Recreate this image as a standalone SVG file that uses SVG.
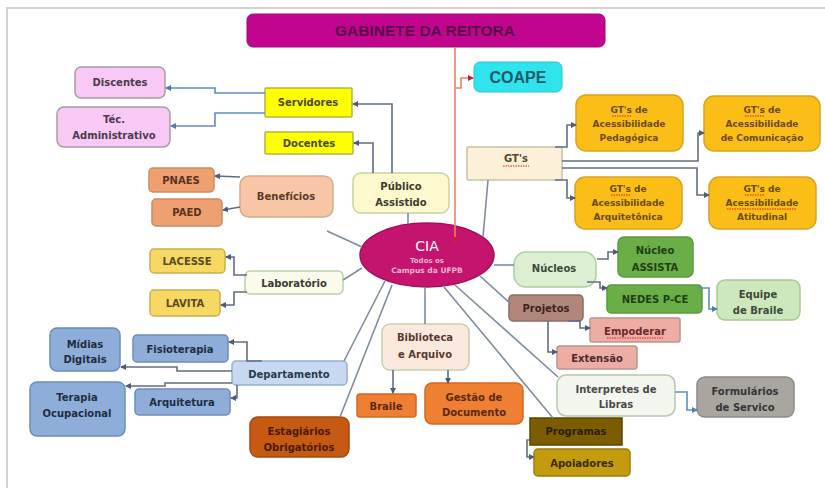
<svg xmlns="http://www.w3.org/2000/svg" width="825" height="488" viewBox="0 0 825 488">
<style>
text{font-family:"DejaVu Sans","Verdana",sans-serif;font-weight:bold;font-size:10px;text-anchor:middle}
.c{fill:none;stroke:#5f6d84;stroke-width:1.6}
.f{fill:none;stroke:#7f8ca0;stroke-width:1.6}
.b{fill:none;stroke:#5d8dc2;stroke-width:1.6}
.o{fill:none;stroke:#e8826a;stroke-width:1.6}
.sq{fill:none;stroke:#e02020;stroke-width:1;stroke-dasharray:1.5 1}
</style>
<defs>
<marker id="as" viewBox="0 0 6 6" refX="5" refY="3" markerWidth="6" markerHeight="6" markerUnits="userSpaceOnUse" orient="auto"><path d="M0,0 L6,3 L0,6 z" fill="#4f5d74"/></marker>
<marker id="ab" viewBox="0 0 6 6" refX="5" refY="3" markerWidth="6" markerHeight="6" markerUnits="userSpaceOnUse" orient="auto"><path d="M0,0 L6,3 L0,6 z" fill="#4d7db2"/></marker>
<marker id="ar" viewBox="0 0 6 6" refX="5" refY="3" markerWidth="6" markerHeight="6" markerUnits="userSpaceOnUse" orient="auto"><path d="M0,0 L6,3 L0,6 z" fill="#c02030"/></marker>
</defs>
<rect width="825" height="488" fill="#ffffff"/>
<path d="M7,488 L7,8 L825,8" fill="none" stroke="#d2d2d2" stroke-width="2"/>

<g id="gabinete"><rect x="247" y="14" width="358" height="33" rx="6" fill="#c2058e" stroke="#a0087a"/><text x="425" y="36" style="font-family:'Liberation Sans',Arial,sans-serif;font-size:15.5px;fill:#561048">GABINETE DA REITORA</text></g>
<g id="coape"><rect x="474" y="62" width="88" height="30" rx="6" fill="#30e4ee" stroke="#22c6d0"/><text x="518" y="83" style="font-family:'Liberation Sans',Arial,sans-serif;font-size:16px;fill:#1c5a6a">COAPE</text></g>

<g id="discentes"><rect x="75" y="67" width="90" height="31" rx="6" fill="#f8c9f4" stroke="#a89ca8" stroke-width="1.5"/><text x="120" y="86" fill="#4a3a4c">Discentes</text></g>
<g id="tec"><rect x="57" y="107" width="113" height="40" rx="7" fill="#f8c9f4" stroke="#a89ca8" stroke-width="1.5"/><text x="114" y="123" fill="#4a3a4c">Téc.</text><text x="114" y="139" fill="#4a3a4c">Administrativo</text></g>
<g id="servidores"><rect x="265" y="88" width="87" height="29" rx="1" fill="#ffff00" stroke="#b4b44a" stroke-width="1.5"/><text x="308" y="106" fill="#4c4a14">Servidores</text></g>
<g id="docentes"><rect x="265" y="132" width="88" height="22" rx="1" fill="#ffff00" stroke="#b4b44a" stroke-width="1.5"/><text x="309" y="147" fill="#4c4a14">Docentes</text></g>
<g id="publico"><rect x="353" y="173" width="96" height="40" rx="8" fill="#fbf9cd" stroke="#c8d49c" stroke-width="1.5"/><text x="401" y="190" fill="#3c3c30">Público</text><text x="401" y="206" fill="#3c3c30">Assistido</text></g>

<g id="gts"><rect x="467" y="147" width="95" height="33" rx="1" fill="#fdf0d8" stroke="#c8c2a2" stroke-width="1.5"/><text x="516" y="162" fill="#5a4424">GT's</text><path class="sq" d="M503,166 L529,166"/></g>
<g id="gt-pedagogica"><rect x="576" y="95" width="107" height="56" rx="10" fill="#fbbe16" stroke="#d4a424" stroke-width="1.5"/><text x="629" y="113" style="font-size:9px" fill="#6a4a12">GT's de</text><path class="sq" d="M612,116 L631,116"/><text x="629" y="127" style="font-size:9px" fill="#6a4a12">Acessibilidade</text><text x="629" y="141" style="font-size:9px" fill="#6a4a12">Pedagógica</text></g>
<g id="gt-comunicacao"><rect x="704" y="96" width="116" height="55" rx="10" fill="#fbbe16" stroke="#d4a424" stroke-width="1.5"/><text x="762" y="113" style="font-size:9px" fill="#6a4a12">GT's de</text><path class="sq" d="M745,116 L764,116"/><text x="762" y="127" style="font-size:9px" fill="#6a4a12">Acessibilidade</text><text x="762" y="141" style="font-size:9px" fill="#6a4a12">de Comunicação</text></g>
<g id="gt-arquitetonica"><rect x="575" y="177" width="107" height="52" rx="10" fill="#fbbe16" stroke="#d4a424" stroke-width="1.5"/><text x="628" y="192" style="font-size:9px" fill="#6a4a12">GT's de</text><path class="sq" d="M611,195 L630,195"/><text x="628" y="206" style="font-size:9px" fill="#6a4a12">Acessibilidade</text><text x="628" y="220" style="font-size:9px" fill="#6a4a12">Arquitetônica</text></g>
<g id="gt-atitudinal"><rect x="709" y="177" width="107" height="52" rx="10" fill="#fbbe16" stroke="#d4a424" stroke-width="1.5"/><text x="762" y="192" style="font-size:9px" fill="#6a4a12">GT's de</text><path class="sq" d="M745,195 L764,195"/><text x="762" y="206" style="font-size:9px" fill="#6a4a12">Acessibilidade</text><path class="sq" d="M727,209 L797,209"/><text x="762" y="220" style="font-size:9px" fill="#6a4a12">Atitudinal</text></g>

<g id="beneficios"><rect x="240" y="176" width="93" height="41" rx="9" fill="#f6c6a6" stroke="#d6ac8c" stroke-width="1.5"/><text x="286" y="200" fill="#5a3a2c">Benefícios</text></g>
<g id="pnaes"><rect x="149" y="168" width="65" height="24" rx="4" fill="#eea070" stroke="#c88c62" stroke-width="1.5"/><text x="181" y="184" fill="#5a3220">PNAES</text></g>
<g id="paed"><rect x="152" y="199" width="70" height="27" rx="4" fill="#eea070" stroke="#c88c62" stroke-width="1.5"/><text x="187" y="216" fill="#5a3220">PAED</text></g>
<g id="laboratorio"><rect x="245" y="271" width="98" height="23" rx="5" fill="#fbfbec" stroke="#bcd0a6" stroke-width="1.5"/><text x="294" y="287" fill="#3a3a30">Laboratório</text></g>
<g id="lacesse"><rect x="150" y="249" width="75" height="24" rx="4" fill="#f7d862" stroke="#c8b052" stroke-width="1.5"/><text x="187" y="265" fill="#5a4a22">LACESSE</text></g>
<g id="lavita"><rect x="150" y="290" width="70" height="26" rx="4" fill="#f7d862" stroke="#c8b052" stroke-width="1.5"/><text x="185" y="307" fill="#5a4a22">LAVITA</text></g>

<g id="cia"><ellipse cx="427" cy="255" rx="67" ry="32" fill="#c5146d" stroke="#a40f5c" stroke-width="1.5"/><text x="427" y="251" style="font-weight:normal;font-size:14px" fill="#ffffff">CIA</text><text x="427" y="263" style="font-size:7px" fill="#f4b4d4">Todos os</text><text x="427" y="273" style="font-size:7.5px" fill="#f4b4d4">Campus da UFPB</text></g>

<g id="nucleos"><rect x="514" y="252" width="82" height="35" rx="12" fill="#ddefd3" stroke="#aed09c" stroke-width="1.5"/><text x="554" y="272" fill="#3a4a3a">Núcleos</text></g>
<g id="assista"><rect x="618" y="237" width="75" height="40" rx="6" fill="#6bad47" stroke="#5b9a3d" stroke-width="1.5"/><text x="655" y="254" fill="#1f3f15">Núcleo</text><text x="655" y="271" fill="#1f3f15">ASSISTA</text></g>
<g id="nedes"><rect x="607" y="285" width="95" height="28" rx="4" fill="#6bad47" stroke="#5b9a3d" stroke-width="1.5"/><text x="655" y="303" fill="#1f3f15">NEDES P-CE</text></g>
<g id="equipe"><rect x="717" y="280" width="83" height="40" rx="8" fill="#cee8be" stroke="#a8cc90" stroke-width="1.5"/><text x="758" y="298" fill="#3a4a3a">Equipe</text><text x="758" y="314" fill="#3a4a3a">de Braile</text></g>
<g id="projetos"><rect x="509" y="295" width="74" height="26" rx="4" fill="#b0867a" stroke="#8c6c62" stroke-width="1.5"/><text x="546" y="312" fill="#3a2424">Projetos</text></g>
<g id="empoderar"><rect x="590" y="318" width="90" height="24" rx="2" fill="#edaca4" stroke="#b8968a" stroke-width="1.5"/><text x="635" y="335" fill="#6a2a2a">Empoderar</text><path class="sq" d="M607,338 L663,338"/></g>
<g id="extensao"><rect x="557" y="346" width="80" height="23" rx="3" fill="#edaca4" stroke="#b8968a" stroke-width="1.5"/><text x="597" y="362" fill="#4a2a2a">Extensão</text></g>
<g id="interpretes"><rect x="557" y="375" width="118" height="41" rx="9" fill="#f3f5ef" stroke="#b6c6ac" stroke-width="1.5"/><text x="616" y="393" fill="#4a4a48">Interpretes de</text><text x="616" y="408" fill="#4a4a48">Libras</text></g>
<g id="formularios"><rect x="697" y="377" width="97" height="40" rx="8" fill="#a9a6a0" stroke="#8c8a84" stroke-width="1.5"/><text x="745" y="395" fill="#353535">Formulários</text><text x="745" y="411" fill="#353535">de Servico</text></g>
<g id="programas"><rect x="530" y="418" width="92" height="27" fill="#7b5d00" stroke="#5a4500" stroke-width="1.5"/><text x="576" y="435" fill="#2a1e00">Programas</text></g>
<g id="apoiadores"><rect x="534" y="449" width="96" height="27" rx="4" fill="#c29c0e" stroke="#a07c08" stroke-width="1.5"/><text x="582" y="467" fill="#3a2a00">Apoiadores</text></g>

<g id="biblioteca"><rect x="382" y="324" width="87" height="46" rx="8" fill="#fce9dd" stroke="#c6cfae" stroke-width="1.5"/><text x="425" y="341" fill="#5a3a30">Biblioteca</text><text x="425" y="358" fill="#5a3a30">e Arquivo</text></g>
<g id="braile"><rect x="357" y="394" width="59" height="23" rx="3" fill="#ef7f32" stroke="#d06a20" stroke-width="1.5"/><text x="386" y="410" fill="#5a2a0a">Braile</text></g>
<g id="gestao"><rect x="425" y="383" width="98" height="41" rx="7" fill="#ef7f32" stroke="#d06a20" stroke-width="1.5"/><text x="474" y="401" fill="#5a2a0a">Gestão de</text><text x="474" y="416" fill="#5a2a0a">Documento</text></g>

<g id="departamento"><rect x="232" y="361" width="115" height="24" rx="4" fill="#c6d9f1" stroke="#94b1d2" stroke-width="1.5"/><text x="289" y="378" fill="#2a3a4a">Departamento</text></g>
<g id="fisioterapia"><rect x="133" y="335" width="95" height="27" rx="4" fill="#8eadd9" stroke="#6e8cb8" stroke-width="1.5"/><text x="180" y="353" fill="#1e2e40">Fisioterapia</text></g>
<g id="midias"><rect x="50" y="328" width="70" height="43" rx="7" fill="#8eadd9" stroke="#6e8cb8" stroke-width="1.5"/><text x="85" y="348" fill="#1e2e40">Mídias</text><text x="85" y="363" fill="#1e2e40">Digitais</text></g>
<g id="terapia"><rect x="30" y="382" width="95" height="54" rx="7" fill="#8eadd9" stroke="#6e8cb8" stroke-width="1.5"/><text x="77" y="401" fill="#1e2e40">Terapia</text><text x="77" y="417" fill="#1e2e40">Ocupacional</text></g>
<g id="arquitetura"><rect x="135" y="389" width="95" height="26" rx="4" fill="#8eadd9" stroke="#6e8cb8" stroke-width="1.5"/><text x="182" y="406" fill="#1e2e40">Arquitetura</text></g>
<g id="estagiarios"><rect x="250" y="417" width="99" height="40" rx="8" fill="#c65a12" stroke="#a44a10" stroke-width="1.5"/><text x="299" y="435" fill="#4a1a00">Estagiários</text><text x="299" y="451" fill="#4a1a00">Obrigatórios</text></g>

<g id="connectors">
<path class="o" d="M455,47 L455,242" marker-end="url(#ar)"/>
<path class="o" d="M455,88 L461,88 L461,78 L473,78" marker-end="url(#ar)"/>
<path class="b" d="M265,93 L215,93 L215,88 L166,88" marker-end="url(#ab)"/>
<path class="b" d="M265,113 L215,113 L215,126 L171,126" marker-end="url(#ab)"/>
<path class="c" d="M392,173 L392,104 L353,104" marker-end="url(#as)"/>
<path class="c" d="M373,173 L373,143 L354,143" marker-end="url(#as)"/>
<path class="c" d="M555,147 L567,147 L567,125 L576,125" marker-end="url(#as)"/>
<path class="c" d="M562,161 L698,161 L698,133 L704,133" marker-end="url(#as)"/>
<path class="c" d="M562,168 L697,168 L697,195 L709,195" marker-end="url(#as)"/>
<path class="c" d="M555,180 L567,180 L567,198 L575,198" marker-end="url(#as)"/>
<path class="c" d="M240,177 L215,176" marker-end="url(#as)"/>
<path class="c" d="M240,207 L223,210" marker-end="url(#as)"/>
<path class="c" d="M247,275 L234,275 L234,257 L226,257" marker-end="url(#as)"/>
<path class="c" d="M247,292 L234,292 L234,305 L221,305" marker-end="url(#as)"/>
<path class="c" d="M597,259 L608,259 L608,252 L618,252" marker-end="url(#as)"/>
<path class="c" d="M587,282 L600,282 L600,288 L607,288" marker-end="url(#as)"/>
<path class="b" d="M697,288 L709,288 L709,309 L717,309" marker-end="url(#ab)"/>
<path class="c" d="M568,321 L580,321 L580,328 L590,328" marker-end="url(#as)"/>
<path class="c" d="M548,321 L548,352 L557,352" marker-end="url(#as)"/>
<path class="b" d="M675,392 L687,392 L687,410 L697,410" marker-end="url(#ab)"/>
<path class="c" d="M530,440 L527,440 L527,457 L534,457" marker-end="url(#as)"/>
<path class="c" d="M393,370 L393,393" marker-end="url(#as)"/>
<path class="c" d="M448,370 L448,383" marker-end="url(#as)"/>
<path class="c" d="M262,361 L247,361 L247,342 L229,342" marker-end="url(#as)"/>
<path class="c" d="M232,371 L177,371 L177,367 L121,367" marker-end="url(#as)"/>
<path class="c" d="M232,383 L165,383 L165,386 L126,386" marker-end="url(#as)"/>
<path class="c" d="M237,385 L237,398 L231,398" marker-end="url(#as)"/>
<path class="f" d="M327,231 L362,247"/>
<path class="f" d="M343,280 L362,268"/>
<path class="f" d="M408,213 L408,224"/>
<path class="f" d="M488,180 L483,237"/>
<path class="f" d="M494,265 L514,265"/>
<path class="f" d="M480,276 L511,304"/>
<path class="f" d="M455,285 L558,377"/>
<path class="f" d="M444,287 L553,418"/>
<path class="f" d="M425,287 L425,324"/>
<path class="f" d="M392,285 L340,417"/>
<path class="f" d="M385,281 L344,361"/>
</g>
</svg>
